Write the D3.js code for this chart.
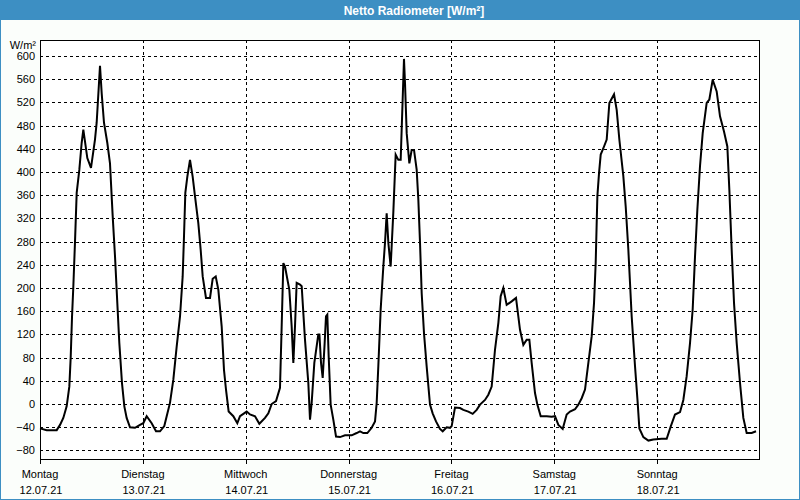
<!DOCTYPE html>
<html><head><meta charset="utf-8">
<script src="https://cdn.jsdelivr.net/npm/d3@7"></script>
<style>
html,body{margin:0;padding:0;background:#fbfefb;}
svg{display:block;}
text{font-family:"Liberation Sans",Arial,sans-serif;}
</style></head>
<body>
<svg id="chart" width="800" height="500"></svg>
<script>
const title = "Netto Radiometer [W/m²]";
const unitLabel = "W/m²";
const dayNames = ["Montag","Dienstag","Mittwoch","Donnerstag","Freitag","Samstag","Sonntag"];
const dayDates = ["12.07.21","13.07.21","14.07.21","15.07.21","16.07.21","17.07.21","18.07.21"];
const yTicks = [-80,-40,0,40,80,120,160,200,240,280,320,360,400,440,480,520,560,600];
// hours since 12.07.21 00:00
const hours = [0,1.56,3.9,4.67,5.44,6.22,6.84,7.16,7.47,7.78,8.17,8.56,9.18,9.72,10.11,11.04,11.9,12.83,13.22,14.0,14.39,14.93,15.71,16.33,16.96,17.5,18.04,18.51,19.13,19.68,20.22,21.0,22.17,23.33,
24.1,24.89,26.06,27.07,28.0,29.0,29.56,30.33,31.11,31.89,32.67,33.29,33.6,33.91,34.38,35.0,35.62,36.17,36.94,37.49,37.96,38.73,39.67,40.29,41.0,41.61,42.39,42.93,43.4,44.02,45.11,46.04,46.67,
48.22,49.0,50.17,51.18,52.5,53.28,54.06,55.07,56.0,56.39,56.78,57.17,58.18,58.72,59.11,59.5,59.89,60.67,61.06,61.83,62.61,63.0,63.39,64.01,64.94,65.2,65.57,65.96,66.42,66.73,67.04,67.36,67.82,68.44,69.07,70.0,71.17,
72.72,73.89,74.67,75.44,76.38,77.39,78.17,78.56,78.94,79.49,80.11,80.5,80.89,81.28,81.82,82.44,82.99,83.61,84.16,84.93,85.17,85.56,86.18,86.72,87.27,87.89,88.28,88.67,89.06,89.6,90.22,91.0,91.62,92.4,93.33,93.96,94.89,
95.67,96.06,96.83,98.0,98.78,99.94,100.96,101.89,102.67,103.83,104.61,105.39,106.17,106.95,107.49,108.11,108.89,110.06,111.07,112.0,112.78,113.56,114.18,114.72,115.5,116.05,116.83,118.23,119.4,
120.17,120.95,121.96,122.89,123.67,124.84,125.61,126.39,127.17,127.95,128.73,129.27,129.66,130.05,130.44,130.83,131.45,132.23,132.85,133.94,134.56,135.18,136.11,136.66,137.28,138.06,138.84,139.46,139.85,140.78,141.95,143.11,
145.06,146.23,147.16,148.17,149.34,150.11,150.89,151.67,152.29,152.84,153.38,154.0,154.63,155.56,156.18,156.96,157.89,158.67,159.6,160.38,160.85,161.39,161.94,162.56,163.34,164.11,164.89,166.06,167.07];
const values = [-42,-45,-45,-36,-24,-4,30,80,150,203,280,364,404,450,473,424,407,456,485,583,536,485,450,415,324,255,174,105,36,-4,-24,-40,-41,-36,
-33,-21,-33,-47,-47,-38,-21,2,42,99,151,220,289,364,392,421,392,358,312,266,220,183,183,216,220,197,134,59,25,-13,-21,-33,-21,
-13,-18,-21,-34,-24,-16,0,5,28,134,243,237,197,134,71,134,209,206,203,111,36,-27,2,71,120,120,71,45,105,151,154,82,-1,-27,-56,-57,-54,
-54,-50,-47,-50,-50,-41,-30,2,65,163,237,278,329,278,237,330,430,421,421,595,553,467,415,438,438,404,352,278,191,122,65,-1,-16,-30,-43,-47,-40,
-41,-38,-6,-7,-10,-13,-17,-10,-1,7,16,30,94,140,186,200,171,177,183,128,102,111,111,71,19,-1,-21,-21,-22,
-21,-36,-43,-18,-13,-9,-1,10,25,71,117,174,243,358,398,430,441,456,519,534,507,456,393,341,266,151,65,2,-42,-57,-63,-61,
-60,-60,-39,-18,-14,7,48,105,163,255,335,410,467,519,525,559,539,496,470,444,369,266,174,105,36,-24,-50,-50,-47];

const svg = d3.select("#chart");
const W = 800, H = 500;

// window frame
svg.append("rect").attr("x",0.5).attr("y",0.5).attr("width",W-1).attr("height",H-1)
  .attr("fill","#fbfefb").attr("stroke","#3d8fc3");
svg.append("rect").attr("x",0).attr("y",0).attr("width",W).attr("height",20).attr("fill","#3d8fc3");
svg.append("text").attr("x",414).attr("y",14.5).attr("text-anchor","middle")
  .attr("fill","#fff").attr("font-weight","bold").attr("font-size","12px").text(title);

const x = d3.scaleLinear().domain([0,168]).range([40,760]);
const y = d3.scaleLinear().domain([-96.5,627.6]).range([460,40]);

const g = svg.append("g");
g.append("rect").attr("x",40).attr("y",40).attr("width",720).attr("height",420).attr("fill","#fff");

// horizontal gridlines
g.selectAll(".hg").data(yTicks).enter().append("line")
  .attr("x1",40).attr("x2",760)
  .attr("y1",d=>Math.round(y(d))+0.5).attr("y2",d=>Math.round(y(d))+0.5)
  .attr("stroke","#000").attr("stroke-dasharray","3,3").attr("stroke-width",1);
// vertical gridlines
const dayHours = d3.range(1,7).map(i=>i*24);
g.selectAll(".vg").data(dayHours).enter().append("line")
  .attr("y1",40).attr("y2",460)
  .attr("x1",d=>Math.round(x(d))+0.5).attr("x2",d=>Math.round(x(d))+0.5)
  .attr("stroke","#000").attr("stroke-dasharray","3,3").attr("stroke-width",1);

// y axis labels
const yAxis = d3.axisLeft(y).tickValues(yTicks).tickSize(0).tickPadding(5);
const ya = g.append("g").attr("transform","translate(40,0)").call(yAxis);
ya.select(".domain").remove();
ya.selectAll("text").attr("font-size","11px").attr("fill","#000").attr("font-family","Liberation Sans, Arial, sans-serif");

svg.append("text").attr("x",36).attr("y",49).attr("text-anchor","end")
  .attr("font-size","11px").attr("fill","#000").text(unitLabel);

// x axis ticks
const dayIdx = d3.range(0,7);
const xa = g.append("g").attr("transform","translate(0,460)");
xa.selectAll("line").data(dayIdx).enter().append("line")
  .attr("x1",d=>Math.round(x(d*24))+0.5).attr("x2",d=>Math.round(x(d*24))+0.5)
  .attr("y1",0).attr("y2",4).attr("stroke","#000");
xa.selectAll(".dn").data(dayIdx).enter().append("text")
  .attr("x",d=>x(d*24)).attr("y",18).attr("text-anchor","middle")
  .attr("font-size","11px").attr("fill","#000").text(d=>dayNames[d]);
xa.selectAll(".dd").data(dayIdx).enter().append("text")
  .attr("x",d=>x(d*24)+1).attr("y",34).attr("text-anchor","middle")
  .attr("font-size","11px").attr("fill","#000").text(d=>dayDates[d]);

// frame
g.append("rect").attr("x",40.5).attr("y",40.5).attr("width",719).attr("height",419)
  .attr("fill","none").attr("stroke","#000").attr("stroke-width",1);

// data line
const pts = hours.map((h,i)=>[h,values[i]]);
const line = d3.line().x(d=>x(d[0])).y(d=>y(d[1]));
g.append("path").datum(pts).attr("d",line).attr("fill","none")
  .attr("stroke","#000").attr("stroke-width",2).attr("stroke-linejoin","miter");
</script>
</body></html>
